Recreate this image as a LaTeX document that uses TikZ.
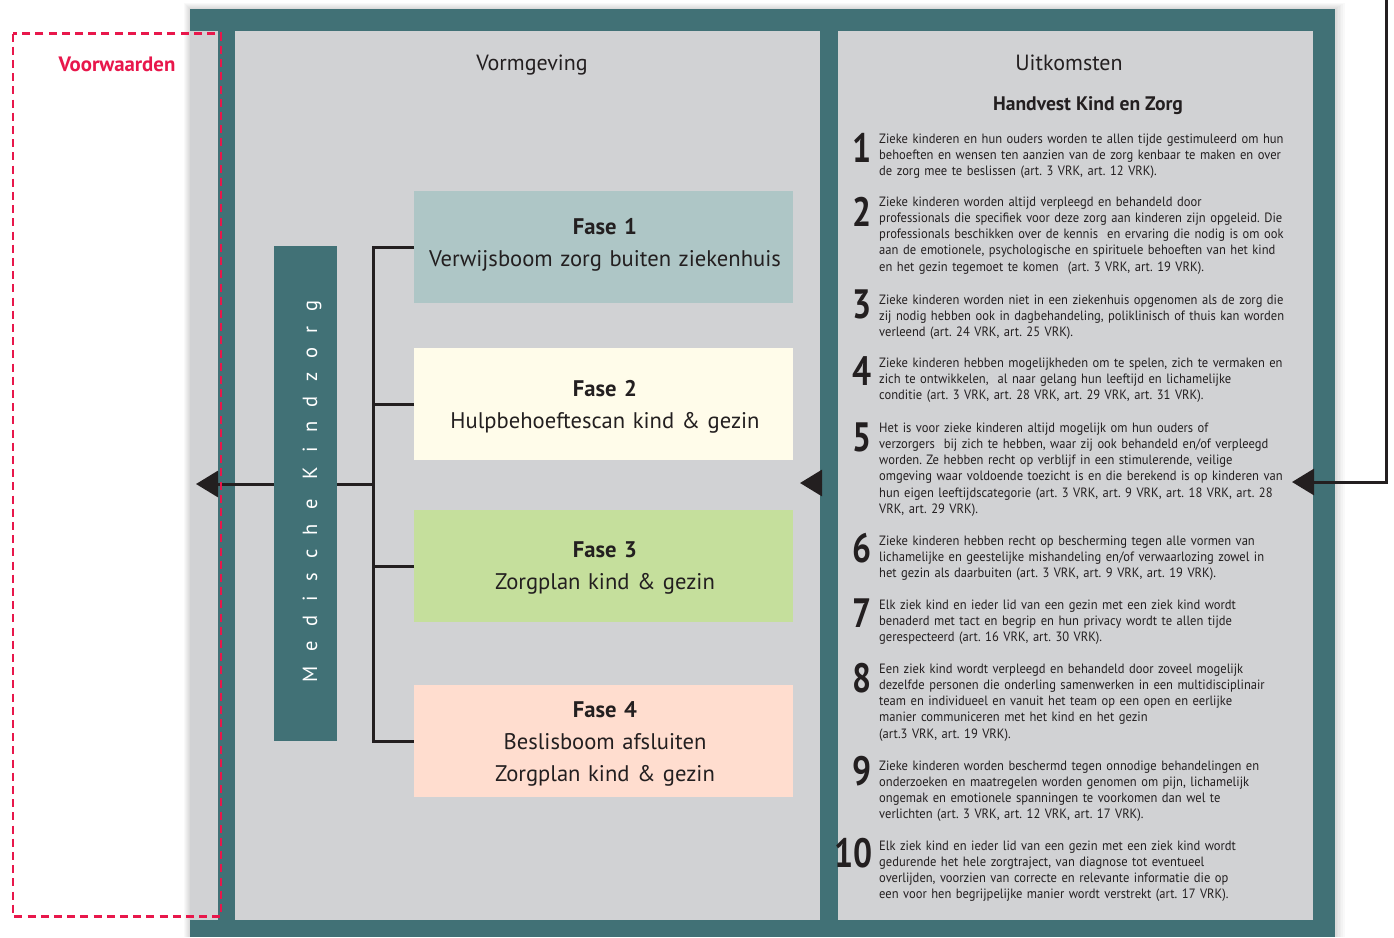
\documentclass[tikz,border=0pt]{standalone}
\usepackage{fontspec}
\setmainfont{PT Sans}
\newfontfamily\condfont[FakeStretch=0.93]{PT Sans}
\newfontfamily\numfont[FakeStretch=0.82]{PT Sans}
\newfontfamily\spacedfont[LetterSpace=70]{PT Sans}
\usetikzlibrary{arrows.meta}
\definecolor{frameteal}{HTML}{417176}
\definecolor{panelgray}{HTML}{D1D2D4}
\definecolor{faseA}{HTML}{AEC6C6}
\definecolor{faseB}{HTML}{FFFCEA}
\definecolor{faseC}{HTML}{C5DF9C}
\definecolor{faseD}{HTML}{FFDDCF}
\definecolor{redline}{HTML}{E8174B}
\definecolor{ink}{HTML}{231F20}
\begin{document}
\frenchspacing
\begin{tikzpicture}[x=1pt,y=-1pt,
  fasebox/.style={rectangle, inner sep=0pt, outer sep=0pt, draw=none, minimum width=379pt, minimum height=112pt, anchor=north west},
  fasetext/.style={anchor=base, inner sep=0pt, text width=376pt, align=center, font=\fontsize{22.6}{32.3}\selectfont, text=ink},
  header/.style={anchor=base, inner sep=0pt, font=\fontsize{22}{26}\selectfont, text=ink},
  item/.style={anchor=base west, inner sep=0pt, text width=430pt, align=left, font=\condfont\fontsize{13.5}{16.25}\selectfont, text=ink},
  num/.style={anchor=base east, inner sep=0pt, font=\numfont\bfseries\fontsize{41}{41}\selectfont, text=ink},
  connector/.style={draw=ink, line width=3pt, line join=miter},
  arrowline/.style={connector, -{Triangle[length=22pt,width=26pt]}},
]
\useasboundingbox (0,0) rectangle (1394,937);
\fill[white] (0,0) rectangle (1394,937);
% soft shadow
\foreach \s in {1,...,6}{
  \fill[black, opacity=0.025] (190-\s,9-\s) rectangle (1335+\s*1.6,937);
}
% frame and panels
\fill[frameteal] (190,9) rectangle (1335,937);
\fill[panelgray] (190,31) rectangle (218,920);
\fill[panelgray] (235,31) rectangle (820,920);
\fill[panelgray] (838,31) rectangle (1313,920);

% headers
\node[header] (vorm) at (532,70) {Vormgeving};
\node[header] (uit) at (1069,70) {Uitkomsten};
\node[header, font=\bfseries\fontsize{19.6}{22}\selectfont] (hand) at (1088,110) {Handvest Kind en Zorg};

% fase boxes
\node[fasebox, fill=faseA] (f1) at (414,191) {};
\node[fasebox, fill=faseB] (f2) at (414,348) {};
\node[fasebox, fill=faseC] (f3) at (414,510) {};
\node[fasebox, fill=faseD] (f4) at (414,685) {};
\node[fasetext] (f1t) at (605,234.5) {\textbf{Fase 1}\\Verwijsboom zorg buiten ziekenhuis};
\node[fasetext] (f2t) at (605,396) {\textbf{Fase 2}\\Hulpbehoeftescan kind \& gezin};
\node[fasetext] (f3t) at (605,557) {\textbf{Fase 3}\\Zorgplan kind \& gezin};
\node[fasetext] (f4t) at (605,717) {\textbf{Fase 4}\\Beslisboom afsluiten\\Zorgplan kind \& gezin};

% bracket and arrows
\coordinate (bx) at (373,484);
\coordinate (tipL) at (196,484);
\draw[connector] (f1.west) -| (bx |- f4.west) -- (f4.west);
\draw[connector] (f2.west) -- (f2.west -| bx);
\draw[connector] (f3.west) -- (f3.west -| bx);
\draw[arrowline] (bx) -- (tipL);

% medische kindzorg bar
\node[rectangle, fill=frameteal, inner sep=0pt, minimum width=63pt, minimum height=495pt, anchor=north west] (mk) at (274,246) {};
\node[anchor=base, rotate=90, inner sep=0pt, text=white, font=\spacedfont\fontsize{20.5}{20.5}\selectfont] (mkt) at (317,491.5) {Medische Kindzorg};

% middle arrowhead
\coordinate (mA) at (822,483);
\coordinate (mB) at (800,483);
\draw[arrowline] (mA) -- (mB);

% right arrow
\coordinate (rTop) at (1386,0);
\coordinate (tipR) at (1292,482);
\draw[arrowline] (rTop) |- (tipR);

% voorwaarden
\draw[redline, line width=2.6pt, dash pattern=on 8pt off 5.2pt] (13,33.5) rectangle (221,916.5);
\node[anchor=base, inner sep=0pt, text=redline, font=\bfseries\fontsize{20.8}{24}\selectfont] (voor) at (117,71) {Voorwaarden};

% items
\node[num] (n1) at (872,162) {1};
\node[item] (t1) at (879,143) {Zieke kinderen en hun ouders worden te allen tijde gestimuleerd om hun\\behoeften en wensen ten aanzien van de zorg kenbaar te maken en over\\de zorg mee te beslissen (art. 3 VRK, art. 12 VRK).};
\node[num] (n2) at (872,226) {2};
\node[item] (t2) at (879,206) {Zieke kinderen worden altijd verpleegd en behandeld door\\professionals die specifiek voor deze zorg aan kinderen zijn opgeleid. Die\\professionals beschikken over de kennis\ \ en ervaring die nodig is om ook\\aan de emotionele, psychologische en spirituele behoeften van het kind\\en het gezin tegemoet te komen\ \ (art. 3 VRK, art. 19 VRK).};
\node[num] (n3) at (872,318) {3};
\node[item] (t3) at (879,304) {Zieke kinderen worden niet in een ziekenhuis opgenomen als de zorg die\\zij nodig hebben ook in dagbehandeling, poliklinisch of thuis kan worden\\verleend (art. 24 VRK, art. 25 VRK).};
\node[num] (n4) at (872,385) {4};
\node[item] (t4) at (879,367) {Zieke kinderen hebben mogelijkheden om te spelen, zich te vermaken en\\zich te ontwikkelen,\ \ al naar gelang hun leeftijd en lichamelijke\\conditie (art. 3 VRK, art. 28 VRK, art. 29 VRK, art. 31 VRK).};
\node[num] (n5) at (872,451) {5};
\node[item] (t5) at (879,432) {Het is voor zieke kinderen altijd mogelijk om hun ouders of\\verzorgers\ \ bij zich te hebben, waar zij ook behandeld en/of verpleegd\\worden. Ze hebben recht op verblijf in een stimulerende, veilige\\omgeving waar voldoende toezicht is en die berekend is op kinderen van\\hun eigen leeftijdscategorie (art. 3 VRK, art. 9 VRK, art. 18 VRK, art. 28\\VRK, art. 29 VRK).};
\node[num] (n6) at (872,562) {6};
\node[item] (t6) at (879,545) {Zieke kinderen hebben recht op bescherming tegen alle vormen van\\lichamelijke en geestelijke mishandeling en/of verwaarlozing zowel in\\het gezin als daarbuiten (art. 3 VRK, art. 9 VRK, art. 19 VRK).};
\node[num] (n7) at (872,627) {7};
\node[item] (t7) at (879,609) {Elk ziek kind en ieder lid van een gezin met een ziek kind wordt\\benaderd met tact en begrip en hun privacy wordt te allen tijde\\gerespecteerd (art. 16 VRK, art. 30 VRK).};
\node[num] (n8) at (872,692) {8};
\node[item] (t8) at (879,673) {Een ziek kind wordt verpleegd en behandeld door zoveel mogelijk\\dezelfde personen die onderling samenwerken in een multidisciplinair\\team en individueel en vanuit het team op een open en eerlijke\\manier communiceren met het kind en het gezin\\(art.3 VRK, art. 19 VRK).};
\node[num] (n9) at (872,785) {9};
\node[item] (t9) at (879,770) {Zieke kinderen worden beschermd tegen onnodige behandelingen en\\onderzoeken en maatregelen worden genomen om pijn, lichamelijk\\ongemak en emotionele spanningen te voorkomen dan wel te\\verlichten (art. 3 VRK, art. 12 VRK, art. 17 VRK).};
\node[num] (n10) at (873,867) {10};
\node[item] (t10) at (879,850) {Elk ziek kind en ieder lid van een gezin met een ziek kind wordt\\gedurende het hele zorgtraject, van diagnose tot eventueel\\overlijden, voorzien van correcte en relevante informatie die op\\een voor hen begrijpelijke manier wordt verstrekt (art. 17 VRK).};
\end{tikzpicture}
\end{document}
